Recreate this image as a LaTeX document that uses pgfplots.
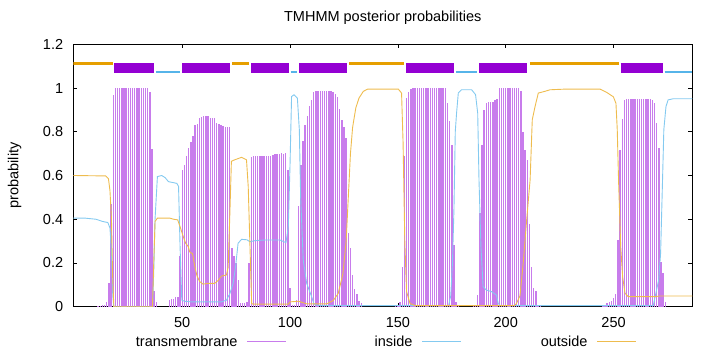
\documentclass[border=0pt]{standalone}
\usepackage{fontspec}
\setmainfont{Liberation Sans}
\usepackage{pgfplots}
\pgfplotsset{compat=1.18}
\definecolor{tmbox}{HTML}{9400D3}
\definecolor{tmimp}{RGB}{200,124,236}
\definecolor{incol}{HTML}{56B4E9}
\definecolor{outcol}{HTML}{E69F00}
\definecolor{inlin}{RGB}{132,202,240}
\definecolor{outlin}{RGB}{238,188,78}
\begin{document}
\begin{tikzpicture}[font=\fontsize{14.5bp}{17bp}\selectfont]
\useasboundingbox (0,0) rectangle (720bp,352bp);
\begin{axis}[
  at={(73.3bp,45.3bp)}, anchor=south west,
  scale only axis, width=619bp, height=262.4bp,
  xmin=-0.5, xmax=286.5, ymin=0, ymax=1.2,
  xtick={50,100,150,200,250},
  ytick={0,0.2,0.4,0.6,0.8,1,1.2},
  /pgf/number format/assume math mode=true,
  xticklabel style={anchor=north, inner sep=0pt, yshift=-10.5bp},
  yticklabel style={anchor=east, inner sep=0pt, xshift=-10bp},
  tick align=inside, major tick length=4bp,
  tick style={black, line width=0.8bp},
  axis line style={black, line width=1bp},
  title={TMHMM posterior probabilities},
  title style={at={(axis description cs:0.5,1)}, anchor=base, yshift=17bp, inner sep=0pt},
  ylabel={probability},
  every axis y label/.style={at={([xshift=-58.6bp]axis description cs:0,0.5)}, rotate=90, anchor=center, inner sep=0pt},
  legend columns=3,
  legend plot pos=right,
  legend style={at={(axis description cs:0.4858,-0.1334)}, anchor=center, draw=none, fill=none,
    inner sep=0pt, column sep=0pt, nodes={inner sep=0pt}},
]
% transmembrane posterior (impulses)
\addplot[ycomb, tmimp, line width=1.4bp, mark=none,
  legend image code/.code={\draw[tmimp, line width=1bp] (0bp,0bp) -- (39bp,0bp);}] coordinates {
(11,0.005)(12,0.005)(13,0.01)(14,0.01)(15,0.02)(16,0.11)(17,0.47)(18,0.97)
(19,1)(20,1)(21,1)(22,1)(23,1)(24,1)(25,1)(26,1)(27,1)(28,1)(29,1)(30,1)(31,1)(32,1)(33,1)(34,1)
(35,0.98)(36,0.72)(37,0.07)(38,0.02)
(44,0.03)(45,0.034)(46,0.037)(47,0.043)(48,0.045)(49,0.23)
(50,0.626)(51,0.649)(52,0.687)(53,0.725)(54,0.755)(55,0.78)(56,0.832)(57,0.836)(58,0.862)(59,0.867)(60,0.87)(61,0.873)(62,0.87)(63,0.865)(64,0.862)(65,0.862)(66,0.842)(67,0.835)(68,0.832)(69,0.827)(70,0.824)(71,0.824)(72,0.824)
(73,0.27)(74,0.23)(75,0.2)(76,0.12)(77,0.015)(78,0.015)(79,0.015)(80,0.02)(81,0.2)
(82,0.684)(83,0.69)(84,0.69)(85,0.69)(86,0.69)(87,0.69)(88,0.69)(89,0.69)(90,0.69)(91,0.69)(92,0.694)(93,0.697)(94,0.699)(95,0.7)(96,0.705)(97,0.7)(98,0.705)(99,0.626)
(100,0.085)(101,0.01)(102,0.01)(103,0.03)
(104,0.46)(105,0.65)(106,0.76)(107,0.83)(108,0.873)(109,0.919)(110,0.943)(111,0.98)(112,0.987)(113,0.987)(114,0.987)(115,0.987)(116,0.987)(117,0.987)(118,0.987)(119,0.987)(120,0.98)(121,0.974)(122,0.96)(123,0.905)(124,0.855)(125,0.82)(126,0.77)
(127,0.336)(128,0.27)(129,0.145)(130,0.08)(131,0.06)(132,0.025)(133,0.015)
(149,0.005)(150,0.01)(151,0.02)(152,0.183)(153,0.687)(154,0.954)(155,0.98)(156,0.995)
(157,1)(158,1)(159,1)(160,1)(161,1)(162,1)(163,1)(164,1)(165,1)(166,1)(167,1)(168,1)(169,1)(170,1)(171,1)(172,1)
(173,0.93)(174,0.85)(175,0.74)(176,0.28)(177,0.02)(178,0.01)
(185,0.005)(186,0.01)(187,0.053)(188,0.427)(189,0.74)(190,0.9)(191,0.93)(192,0.934)(193,0.938)(194,0.938)(195,0.943)(196,0.949)
(197,1)(198,1)(199,1)(200,1)(201,1)(202,1)(203,1)(204,1)(205,1)(206,1)
(207,0.985)(208,0.8)(209,0.718)(210,0.672)(211,0.38)(212,0.183)(213,0.085)(214,0.07)(215,0.01)(216,0.005)
(245,0.005)(246,0.01)(247,0.015)(248,0.02)(249,0.025)(250,0.04)(251,0.06)(252,0.305)(253,0.718)(254,0.86)(255,0.943)
(256,0.949)(257,0.949)(258,0.949)(259,0.949)(260,0.949)(261,0.949)(262,0.949)(263,0.949)(264,0.949)(265,0.949)(266,0.949)(267,0.949)
(268,0.943)(269,0.931)(270,0.842)(271,0.725)(272,0.206)(273,0.152)(274,0.02)
};
\addlegendentry{\makebox[135bp][r]{transmembrane\hspace{9bp}}}
% inside
\addplot[inlin, line width=0.9bp, mark=none,
  legend image code/.code={\draw[inlin, line width=1bp] (0bp,0bp) -- (39bp,0bp);}] coordinates {
(-0.5,0.405)(5,0.405)(10,0.4)(13,0.39)(15.5,0.385)(16.5,0.36)(17.2,0.25)(17.8,0.05)(18.3,0)
(36.3,0)(36.9,0.2)(37.4,0.4)(38.5,0.595)(40.5,0.6)(42.1,0.59)(43.6,0.572)(47.5,0.564)(48.3,0.55)(49,0.275)(49.8,0.03)(51,0.025)(54.3,0.022)(68.2,0.022)(70.5,0.03)(72.1,0.06)(73.6,0.107)(74.7,0.18)(75.9,0.29)(77.5,0.308)(80,0.306)(81.4,0.297)(83.7,0.302)(88.3,0.305)(95.3,0.305)(98.1,0.293)(99.2,0.367)(100,0.656)(100.7,0.961)(101.8,0.969)(103.4,0.954)(104.3,0.809)(104.9,0.504)(106.1,0.214)(107.7,0.107)(110,0.046)(111.1,0.012)(113,0.005)
(173.5,0.005)(174.5,0.05)(175.3,0.2)(176,0.45)(176.6,0.8)(177.2,0.885)(178,0.977)(179.5,0.992)(184.2,0.992)(186,0.97)(187,0.885)(187.6,0.58)(188.5,0.275)(189.5,0.092)(191,0.076)(193.4,0.069)(195.7,0.053)(196.5,0.015)(197.5,0.005)
(268.4,0.005)(269.6,0.061)(270.9,0.122)(271.8,0.244)(272.7,0.58)(273.3,0.81)(274.3,0.916)(275.3,0.946)(277.7,0.951)(286.5,0.951)
};
\addlegendentry{\makebox[135bp][r]{inside\hspace{9bp}}}
% outside
\addplot[outlin, line width=0.9bp, mark=none,
  legend image code/.code={\draw[outlin, line width=1bp] (0bp,0bp) -- (39bp,0bp);}] coordinates {
(-0.5,0.6)(14.5,0.598)(15.8,0.585)(16.5,0.53)(17.2,0.4)(17.7,0.15)(18.3,0)
(36.2,0)(36.8,0.2)(37.4,0.39)(38.5,0.405)(44.3,0.405)(46,0.4)(47.9,0.397)(49,0.366)(50.5,0.32)(51.6,0.29)(52.8,0.275)(53.5,0.25)(54.8,0.242)(55.9,0.18)(56.9,0.14)(58.1,0.115)(59.7,0.103)(62,0.107)(65.1,0.107)(66.6,0.12)(68.2,0.14)(70.5,0.145)(71.3,0.18)(72.1,0.43)(72.8,0.665)(74.4,0.672)(77.5,0.683)(79.8,0.672)(80.6,0.55)(81.4,0.28)(82.2,0.015)(82.7,0.012)(99.2,0.012)(100,0.022)(103.9,0.025)(107.7,0.013)(117,0.013)(120,0.028)(122.3,0.06)(124.5,0.15)(126,0.3)(127,0.5)(128,0.7)(129,0.82)(130.5,0.91)(132,0.955)(134,0.985)(136,0.995)(150.2,0.995)(151.7,0.977)(152.4,0.75)(153.2,0.3)(154,0.07)(155.6,0.015)(158,0.005)
(204,0.005)(205,0.015)(206.6,0.05)(208.1,0.2)(209.7,0.397)(211.3,0.58)(212.3,0.855)(213.6,0.916)(215.1,0.977)(218.2,0.985)(220.5,0.992)(227.4,0.995)(243.7,0.995)(246.8,0.98)(249.9,0.96)(251.1,0.93)(251.7,0.81)(252.3,0.58)(253.3,0.275)(254.2,0.137)(255.3,0.061)(256.8,0.046)(269.2,0.046)(271.5,0.049)(286.5,0.049)
};
\addlegendentry{\makebox[135bp][r]{outside\hspace{9bp}}}
% topology bar: outside segments
\addplot[forget plot, outcol, line width=2.2bp, mark=none, unbounded coords=jump] coordinates {
(-0.5,1.1126)(17.7,1.1126) (nan,nan)
(73.1,1.1126)(81.1,1.1126) (nan,nan)
(127.4,1.1126)(152.8,1.1126) (nan,nan)
(211.2,1.1126)(252.3,1.1126)
};
% inside segments
\addplot[forget plot, incol, line width=2.2bp, mark=none, unbounded coords=jump] coordinates {
(37.8,1.0733)(49.0,1.0733) (nan,nan)
(100.3,1.0733)(103.3,1.0733) (nan,nan)
(176.9,1.0733)(186.8,1.0733) (nan,nan)
(273.7,1.0733)(286.5,1.0733)
};
% transmembrane boxes
\addplot[forget plot, tmbox, line width=9.6bp, mark=none, unbounded coords=jump] coordinates {
(18.5,1.0916)(36.9,1.0916) (nan,nan)
(49.9,1.0916)(72.1,1.0916) (nan,nan)
(82.0,1.0916)(99.3,1.0916) (nan,nan)
(104.3,1.0916)(126.2,1.0916) (nan,nan)
(153.7,1.0916)(176.0,1.0916) (nan,nan)
(187.7,1.0916)(210.0,1.0916) (nan,nan)
(253.3,1.0916)(272.7,1.0916)
};
\end{axis}
\end{tikzpicture}
\end{document}
